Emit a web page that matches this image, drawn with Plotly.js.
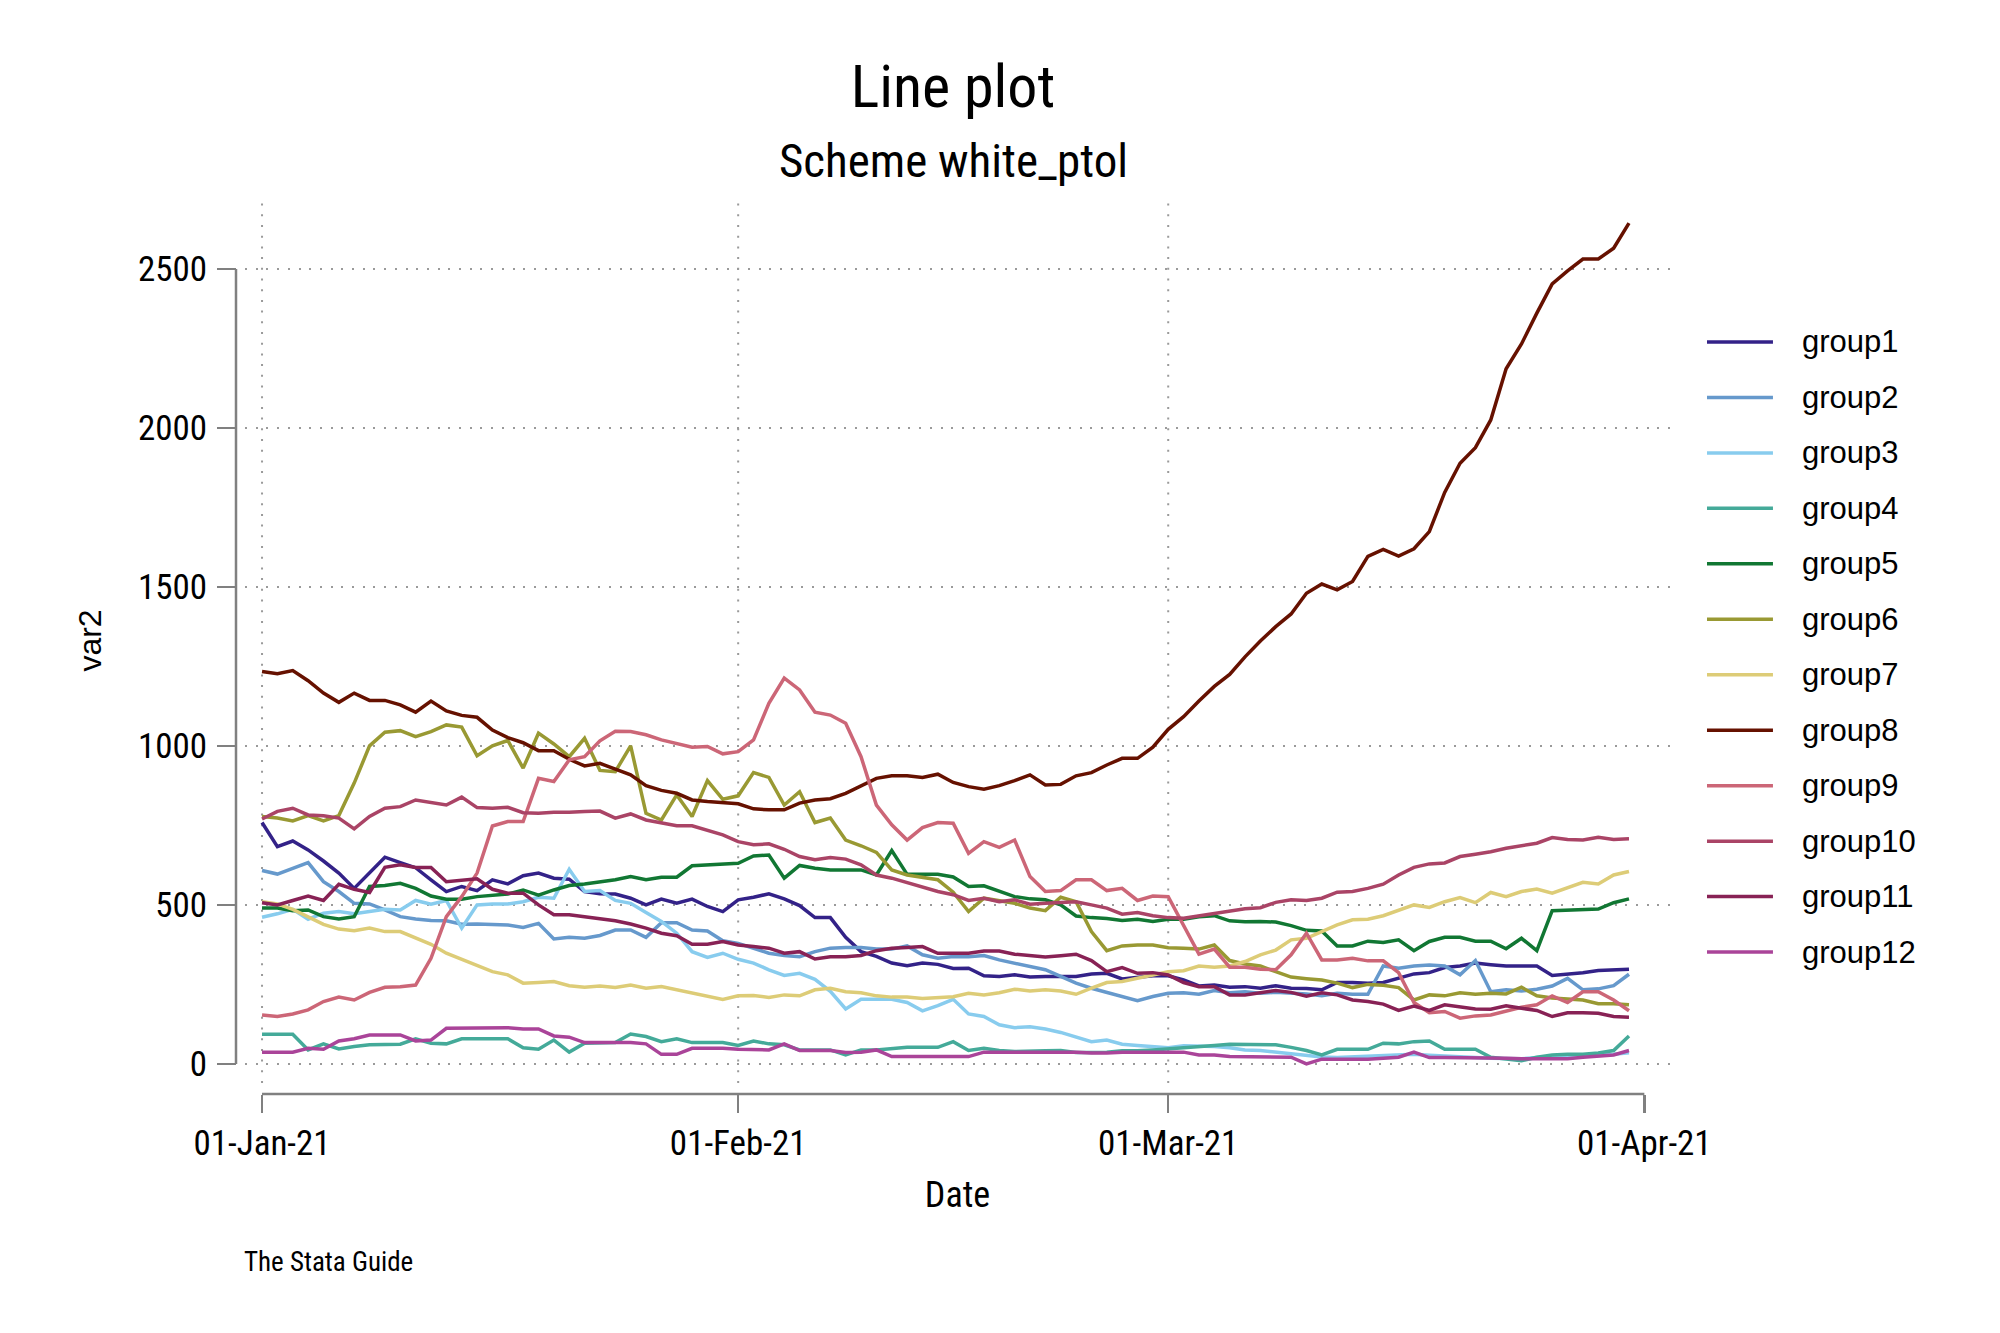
<!DOCTYPE html>
<html>
<head>
<meta charset="utf-8">
<script src="https://cdn.plot.ly/plotly-3.0.1.min.js"></script>
<style>html,body{margin:0;padding:0;background:#fff;}#chart{width:2000px;height:1333px;}</style>
</head>
<body>
<div id="chart"></div>
<script>
const groupNames = ['group1','group2','group3','group4','group5','group6','group7','group8','group9','group10','group11','group12'];
const groupColors = ['#332288','#6699CC','#88CCEE','#44AA99','#117733','#999933','#DDCC77','#661100','#CC6677','#AA4466','#882255','#AA4499'];

const group1 = [759,683,701,673,638,600,552,600,650,633,617,579,542,558,545,579,566,592,600,584,581,542,535,
534,521,500,518,505,518,495,479,516,524,535,519,498,460,460,398,353,338,317,309,317,313,300,
301,277,275,280,273,275,275,275,283,285,267,273,277,277,264,245,248,241,243,238,246,238,237,
233,256,256,254,256,269,283,287,303,308,317,312,308,308,308,278,282,287,294,296,298];
const group2 = [608,597,615,633,573,542,505,503,484,463,456,451,450,439,440,439,437,429,442,393,398,395,404,
421,421,398,444,444,421,418,387,379,364,348,341,337,353,364,366,366,361,361,371,343,332,338,
337,341,327,317,308,296,275,254,238,225,212,199,212,222,224,219,231,224,227,222,225,222,220,
214,222,219,219,308,301,308,311,308,280,325,227,233,229,235,245,269,233,236,246,282];
const group3 = [461,472,486,455,474,479,472,479,486,484,514,502,514,427,500,503,503,510,524,521,612,542,545,
514,505,476,448,411,353,335,348,329,317,296,278,285,266,228,173,203,203,203,193,167,183,203,
157,149,123,114,117,110,99,84,70,75,62,58,55,51,57,57,55,51,44,42,37,31,28,
22,20,22,24,26,28,30,27,24,22,20,18,16,16,20,24,26,26,28,30,35];
const group4 = [93,93,93,44,63,47,55,60,62,62,79,65,63,79,79,79,79,51,46,75,37,65,65,
67,94,86,70,79,67,67,67,58,72,63,60,44,44,44,28,44,44,49,52,52,52,70,
42,49,42,39,39,41,42,36,36,37,41,41,44,47,52,55,58,62,62,62,60,52,42,
28,46,46,46,65,63,70,72,46,46,46,21,16,10,21,28,30,30,34,42,88];
const group5 = [490,490,482,484,463,456,463,558,561,568,552,528,518,518,526,531,534,547,531,547,561,566,572,
579,589,579,587,587,623,626,629,631,654,657,584,624,615,610,610,610,594,671,596,596,596,588,
558,560,542,526,519,516,500,465,460,457,451,455,448,455,455,463,466,450,447,448,446,435,420,
418,371,371,386,382,390,356,385,398,398,386,386,362,395,356,482,484,484,487,507,519];
const group6 = [778,773,764,781,764,781,883,1000,1043,1048,1029,1045,1066,1059,969,1000,1017,930,1040,1006,966,1024,923,
919,1000,788,767,846,778,891,832,843,916,901,814,856,759,773,704,686,665,610,594,587,579,540,
479,521,514,505,490,482,524,510,416,356,371,374,374,365,364,361,374,325,314,308,290,273,268,
264,254,240,250,247,240,201,217,214,224,219,222,220,241,214,207,203,201,189,189,186];
const group7 = [510,503,486,463,439,424,419,427,416,416,395,376,348,329,308,290,280,254,256,259,246,241,245,
240,248,238,243,233,224,214,203,214,215,209,217,214,233,238,227,224,214,210,210,206,209,211,
222,217,224,235,229,233,229,219,238,256,259,269,280,290,293,308,304,308,322,343,358,390,395,
416,437,453,455,466,482,500,492,510,523,507,539,526,542,550,537,554,571,566,594,605];
const group8 = [1234,1227,1237,1205,1166,1137,1166,1143,1143,1129,1106,1141,1110,1096,1090,1050,1026,1010,985,985,958,937,945,
927,909,875,860,851,830,825,822,818,802,799,799,820,830,834,851,875,898,906,906,901,911,885,
872,864,875,891,909,877,879,906,916,940,961,961,996,1052,1092,1141,1187,1225,1280,1330,1375,1415,1480,
1509,1491,1517,1596,1618,1597,1620,1674,1797,1889,1938,2025,2186,2264,2361,2453,2494,2531,2531,2565,2644];
const group9 = [154,149,157,170,196,210,201,225,241,243,248,332,463,526,600,748,762,762,898,888,956,966,1016,
1046,1045,1035,1019,1008,996,998,975,982,1019,1134,1213,1176,1106,1097,1071,966,814,752,704,743,759,757,
662,699,681,704,589,542,545,579,579,545,552,514,528,526,437,345,361,304,304,298,296,343,411,
327,327,332,324,324,287,193,161,165,144,151,154,165,178,186,214,193,227,227,201,167];
const group10 = [770,794,804,783,780,773,739,778,804,809,830,823,814,839,806,804,807,790,788,791,791,794,795,
773,786,767,757,749,749,734,720,699,689,692,675,652,642,649,644,626,594,584,570,556,542,532,
514,521,510,516,502,505,507,510,500,490,471,476,466,460,458,465,474,481,488,491,508,516,514,
521,540,542,552,565,594,618,629,632,652,659,667,678,686,694,712,706,704,713,706,708];
const group11 = [507,500,514,528,514,565,549,539,618,626,618,618,573,577,582,549,537,537,500,469,469,463,456,
450,440,427,411,403,376,376,385,374,369,364,348,353,330,337,337,341,356,364,366,369,348,348,
348,355,355,345,341,336,340,345,325,290,303,285,287,280,256,243,243,217,217,225,231,225,213,
224,217,201,196,188,168,182,168,186,180,173,172,183,175,168,149,161,161,159,149,147];
const group12 = [37,37,37,49,46,72,79,91,91,91,72,75,112,112,114,114,114,110,110,88,84,67,67,
67,67,63,30,30,49,49,49,46,44,44,63,42,42,42,36,37,44,23,23,23,23,25,
23,37,37,37,37,37,37,37,34,34,37,37,37,37,37,28,28,23,23,23,21,21,0,
15,15,15,15,18,21,37,20,20,20,20,20,18,16,16,16,16,21,25,28,42];

const seriesValues = [group1,group2,group3,group4,group5,group6,group7,group8,group9,group10,group11,group12];

const xTickVals = ['2021-01-01','2021-02-01','2021-03-01','2021-04-01'];
const xGridVals = ['2021-01-01','2021-02-01','2021-03-01'];
const yTickVals = [0,500,1000,1500,2000,2500];

const startMs = Date.UTC(2021,0,1);
const dates = seriesValues[0].map((_, i) => new Date(startMs + i*86400000).toISOString().slice(0,10));

const NARROW = "'Liberation Sans Narrow', 'Arial Narrow', 'Roboto Condensed', 'Liberation Sans', sans-serif";
const REGULAR = "'Liberation Sans', Arial, sans-serif";
const AXIS_GRAY = '#808080';
const GRID_GRAY = '#9a9a9a';
const GRID_DASH = '2px,8.7px';
const LINE_W = 3.5;

const traces = seriesValues.map((vals, i) => ({
  type: 'scatter', mode: 'lines',
  x: dates, y: vals,
  name: groupNames[i],
  line: {color: groupColors[i], width: LINE_W},
  showlegend: false,
  hoverinfo: 'skip'
}));

const xRange = ['2020-12-30 21:26', '2021-04-02 16:05'];
const yRange = [-60, 2723];
const xDomain = [0.0063, 1];
const yDomain = [0.0123, 1];

const shapes = [
  // y axis line (spans tick range only)
  {type: 'line', xref: 'paper', x0: 0, x1: 0, yref: 'y', y0: yTickVals[0], y1: yTickVals[yTickVals.length-1],
   line: {color: AXIS_GRAY, width: 2.5}},
  // x axis line (spans tick range only)
  {type: 'line', yref: 'paper', y0: 0, y1: 0, xref: 'x', x0: xTickVals[0], x1: xTickVals[xTickVals.length-1],
   line: {color: AXIS_GRAY, width: 2.5}}
];
// vertical dotted grid lines
xGridVals.forEach(v => shapes.push({
  type: 'line', layer: 'below', xref: 'x', x0: v, x1: v, yref: 'paper', y0: yDomain[0], y1: 1,
  line: {color: GRID_GRAY, width: 2, dash: GRID_DASH}
}));

const annotations = [
  {text: 'Scheme white_ptol', xref: 'paper', x: 0.5, xanchor: 'center',
   yref: 'paper', y: 1.0424, yanchor: 'middle', showarrow: false,
   font: {family: NARROW, size: 47, color: '#000'}},
  {text: 'The Stata Guide', xref: 'paper', x: 0.0042, xanchor: 'left',
   yref: 'paper', y: -0.1875, yanchor: 'middle', showarrow: false,
   font: {family: NARROW, size: 27, color: '#000'}}
];

// legend (right side), built from the group names and colours
const LEG_X0 = 1.0258, LEG_X1 = 1.0718, LEG_TX = 1.0906, LEG_Y0 = 0.8393, LEG_DY = 0.0619;
groupNames.forEach((name, i) => {
  const yy = LEG_Y0 - i * LEG_DY;
  shapes.push({type: 'line', xref: 'paper', yref: 'paper', x0: LEG_X0, x1: LEG_X1, y0: yy, y1: yy,
    line: {color: groupColors[i], width: LINE_W}});
  annotations.push({text: name, xref: 'paper', x: LEG_TX, xanchor: 'left',
    yref: 'paper', y: yy, yanchor: 'middle', showarrow: false,
    font: {family: REGULAR, size: 31, color: '#000'}});
});

const layout = {
  width: 2000, height: 1333,
  paper_bgcolor: '#ffffff', plot_bgcolor: '#ffffff',
  margin: {l: 236, r: 330, t: 198, b: 239, pad: 0},
  title: {
    text: 'Line plot', x: 0.5, xref: 'paper', xanchor: 'center',
    y: 0.9355, yref: 'container', yanchor: 'middle',
    font: {family: NARROW, size: 60, color: '#000'}
  },
  showlegend: false,
  xaxis: {
    type: 'date', range: xRange, domain: xDomain,
    anchor: 'free', position: 0,
    tickmode: 'array', tickvals: xTickVals, tickformat: '%d-%b-%y',
    ticks: 'outside', ticklen: 18, tickwidth: 2.5, tickcolor: AXIS_GRAY,
    ticklabelstandoff: 0,
    tickfont: {family: NARROW, size: 35, color: '#000'},
    showgrid: false, zeroline: false, showline: false,
    title: {text: 'Date', font: {family: NARROW, size: 36, color: '#000'}, standoff: 18}
  },
  yaxis: {
    range: yRange, domain: yDomain,
    anchor: 'free', position: 0,
    tickmode: 'array', tickvals: yTickVals,
    ticks: 'outside', ticklen: 19, tickwidth: 2.5, tickcolor: AXIS_GRAY,
    ticklabelstandoff: 3,
    tickfont: {family: NARROW, size: 35, color: '#000'},
    showgrid: true, gridcolor: GRID_GRAY, gridwidth: 2, griddash: GRID_DASH,
    zeroline: false, showline: false,
    title: {text: 'var2', font: {family: REGULAR, size: 32, color: '#000'}, standoff: 25}
  },
  shapes: shapes,
  annotations: annotations
};

Plotly.newPlot('chart', traces, layout, {staticPlot: true, displayModeBar: false});
</script>
</body>
</html>
